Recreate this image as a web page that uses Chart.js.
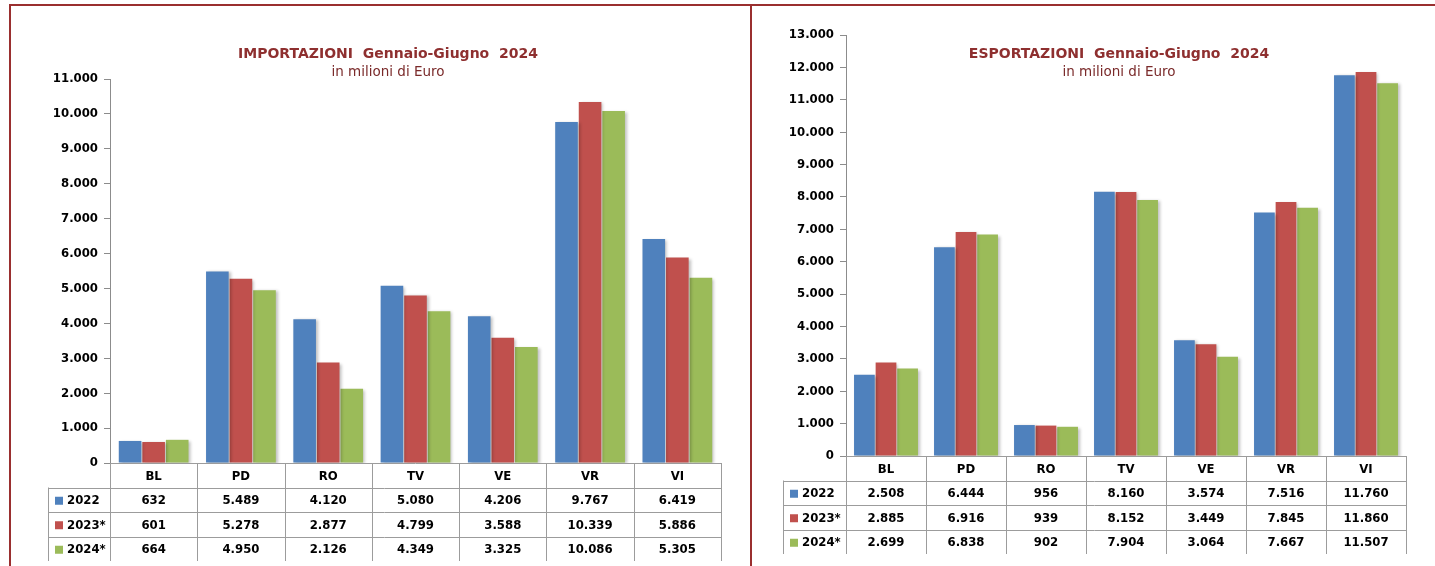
<!DOCTYPE html>
<html>
<head>
<meta charset="utf-8">
<script src="https://cdn.jsdelivr.net/npm/chart.js@4.4.1/dist/chart.umd.min.js"></script>
<style>
  html, body { margin: 0; padding: 0; background: #fff; }
  #wrap { position: relative; width: 1435px; height: 566px; overflow: hidden; }
  canvas { position: absolute; top: 0; }
  .line { position: absolute; background: #9a2f2f; }
</style>
</head>
<body>
<div id="wrap">
  <canvas id="impChart" width="751" height="566" style="left:0"></canvas>
  <canvas id="expChart" width="684" height="566" style="left:751px"></canvas>
  <div class="line" style="left:9px; top:4px; width:1426px; height:2px"></div>
  <div class="line" style="left:9px; top:4px; width:2px; height:562px"></div>
  <div class="line" style="left:750px; top:4px; width:2px; height:562px"></div>
</div>
<script>
// categories and series (milioni di Euro)
const categories = ['BL', 'PD', 'RO', 'TV', 'VE', 'VR', 'VI'];
const seriesLabels = ['2022', '2023*', '2024*'];

const imp2022 = [632, 5489, 4120, 5080, 4206, 9767, 6419];
const imp2023 = [601, 5278, 2877, 4799, 3588, 10339, 5886];
const imp2024 = [664, 4950, 2126, 4349, 3325, 10086, 5305];

const exp2022 = [2508, 6444, 956, 8160, 3574, 7516, 11760];
const exp2023 = [2885, 6916, 939, 8152, 3449, 7845, 11860];
const exp2024 = [2699, 6838, 902, 7904, 3064, 7667, 11507];

const colors = ['#4f81bd', '#c0504d', '#9bbb59'];

const FONT = '"DejaVu Sans Condensed", "DejaVu Sans", sans-serif';
const TITLE_FONT = '"DejaVu Sans", sans-serif';
Chart.defaults.font.family = FONT;

// 11000 -> "11.000"
const fmt = v => String(v).replace(/\B(?=(\d{3})+(?!\d))/g, '.');

// soft shadow behind the bars
const barShadow = {
    id: 'barShadow',
    beforeDatasetsDraw(chart) {
        const ctx = chart.ctx;
        ctx.save();
        ctx.shadowColor = 'rgba(0,0,0,0.25)';
        ctx.shadowBlur = 3;
        ctx.shadowOffsetX = 2;
        ctx.shadowOffsetY = 1;
    },
    afterDatasetsDraw(chart) {
        chart.ctx.restore();
    }
};

// titles + data table under the x axis
const dataTable = {
    id: 'dataTable',
    afterDraw(chart, args, o) {
        const { ctx, chartArea: a, scales: { x } } = chart;
        const n = categories.length;
        const colW = (a.right - a.left) / n;
        const top = Math.round(a.bottom);
        const rh = o.rowH;
        const rows = chart.data.datasets.length;
        const bottom = top + rh * (rows + 1);

        ctx.save();
        // titles
        ctx.textAlign = 'center';
        ctx.textBaseline = 'middle';
        ctx.fillStyle = '#8e2f2f';
        ctx.font = 'bold 14px ' + TITLE_FONT;
        ctx.fillText(o.title, o.titleX, 54);
        ctx.fillStyle = '#7a2a2a';
        ctx.font = '13.5px ' + TITLE_FONT;
        ctx.fillText('in milioni di Euro', o.titleX, 72);

        // grid
        ctx.strokeStyle = '#9c9c9c';
        ctx.lineWidth = 1;
        ctx.beginPath();
        ctx.moveTo(a.left, top + 0.5);
        ctx.lineTo(a.right, top + 0.5);
        for (let r = 1; r <= rows; r++) {
            const y = Math.round(top + rh * r) + 0.5;
            ctx.moveTo(o.legendLeft, y);
            ctx.lineTo(a.right, y);
        }
        for (let i = 0; i <= n; i++) {
            const xx = Math.round(a.left + colW * i) + 0.5;
            ctx.moveTo(xx, top);
            ctx.lineTo(xx, bottom);
        }
        ctx.moveTo(o.legendLeft + 0.5, top + rh);
        ctx.lineTo(o.legendLeft + 0.5, bottom);
        ctx.stroke();

        // text
        ctx.fillStyle = '#000';
        ctx.font = 'bold 13px ' + FONT;
        categories.forEach((c, i) => {
            ctx.fillText(c, x.getPixelForValue(i), top + rh / 2 + 1);
        });
        chart.data.datasets.forEach((ds, r) => {
            const y = top + rh * (r + 1) + rh / 2 + 1;
            ctx.fillStyle = ds.backgroundColor;
            ctx.fillRect(o.legendLeft + 7, y - 4, 8, 8);
            ctx.fillStyle = '#000';
            ctx.textAlign = 'left';
            ctx.fillText(ds.label, o.legendLeft + 19, y);
            ctx.textAlign = 'center';
            ds.data.forEach((v, i) => {
                ctx.fillText(fmt(v), x.getPixelForValue(i), y);
            });
        });
        ctx.restore();
    }
};

function makeChart(canvasId, series, cfg) {
    const canvas = document.getElementById(canvasId);
    return new Chart(canvas.getContext('2d'), {
        type: 'bar',
        data: {
            labels: categories,
            datasets: series.map((d, i) => ({
                label: seriesLabels[i],
                data: d,
                backgroundColor: colors[i],
                borderWidth: 0,
                categoryPercentage: 0.81,
                barPercentage: 0.96
            }))
        },
        options: {
            responsive: false,
            animation: false,
            layout: {
                padding: { left: 0, top: cfg.top, right: cfg.right, bottom: cfg.bottom }
            },
            plugins: {
                legend: { display: false },
                tooltip: { enabled: false },
                dataTable: {
                    title: cfg.title,
                    titleX: cfg.titleX,
                    legendLeft: cfg.legendLeft,
                    rowH: 24.5
                }
            },
            scales: {
                x: { display: false },
                y: {
                    min: 0,
                    max: cfg.max,
                    ticks: {
                        stepSize: 1000,
                        callback: v => fmt(v),
                        color: '#000',
                        padding: 6,
                        font: { size: 13, weight: 'bold' }
                    },
                    grid: { drawOnChartArea: false, tickLength: 6, color: '#8c8c8c' },
                    border: { color: '#8c8c8c' },
                    afterFit: s => { s.width = cfg.yWidth; }
                }
            }
        },
        plugins: [barShadow, dataTable]
    });
}

makeChart('impChart', [imp2022, imp2023, imp2024], {
    title: 'IMPORTAZIONI  Gennaio-Giugno  2024',
    titleX: 388,
    legendLeft: 48,
    max: 11000,
    yWidth: 110,
    top: 79,
    right: 30,
    bottom: 103
});

makeChart('expChart', [exp2022, exp2023, exp2024], {
    title: 'ESPORTAZIONI  Gennaio-Giugno  2024',
    titleX: 368,
    legendLeft: 32,
    max: 13000,
    yWidth: 95,
    top: 35,
    right: 29,
    bottom: 110
});
</script>
</body>
</html>
